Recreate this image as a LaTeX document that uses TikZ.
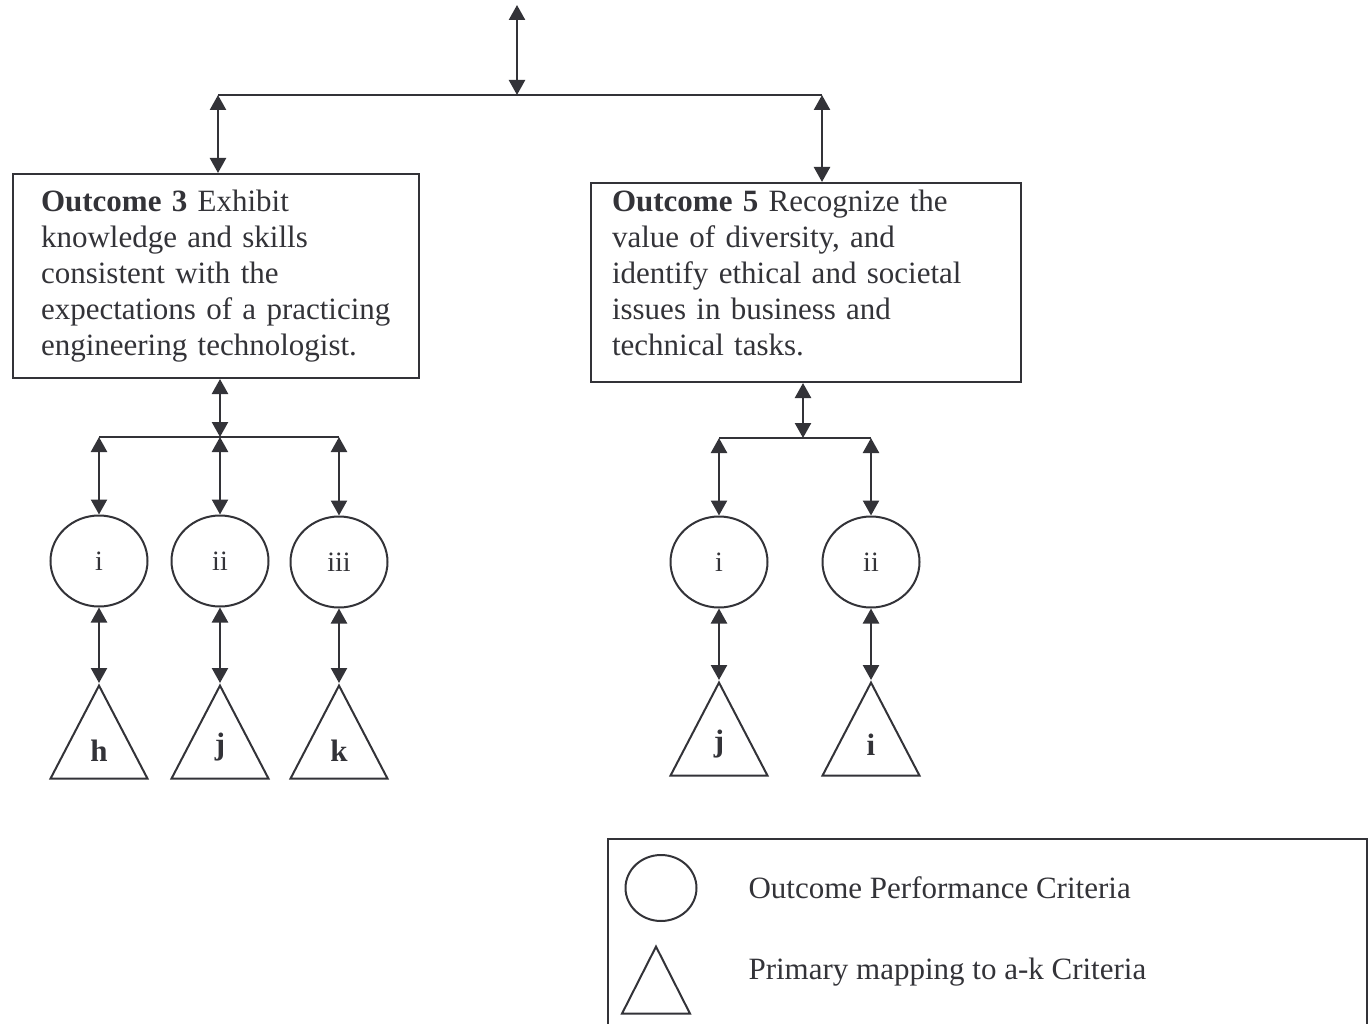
\documentclass[tikz,border=0pt]{standalone}
\usepackage{fontspec}
\setmainfont{Liberation Serif}
\usepackage{tikz}
\usetikzlibrary{arrows.meta,shapes.geometric}
\definecolor{ink}{RGB}{51,51,56}

\begin{document}
\begin{tikzpicture}[<->,>={Triangle[width=16pt,length=15pt]}
  ,x=1pt,y=-1pt
  ,line width=2.4pt
  ,color=ink
  ,font=\fontsize{31}{36}\selectfont]
  \tikzstyle{outbox}=[draw,rectangle,anchor=north west,align=left,
  inner xsep=28pt,line width=2pt]
  \tikzstyle{crit}=[draw,ellipse,minimum width=97pt,minimum height=91pt,
  inner sep=0pt,line width=2pt,font=\fontsize{28}{32}\selectfont]
  \tikzstyle{abet}=[draw,isosceles triangle,shape border rotate=90,
  isosceles triangle stretches,minimum width=97pt,minimum height=93pt,
  inner sep=0pt,anchor=apex,line width=2pt,font=\bfseries\fontsize{31}{36}\selectfont]

  \useasboundingbox (0,0) rectangle (1370,1024);

  % two outcome boxes
  \node[outbox,text width=350pt,minimum height=204pt](oc3) at (12,173)
  {\textbf{Outcome 3} Exhibit\\knowledge and skills\\consistent with the\\
    expectations of a practicing\\engineering technologist.};
  \node[outbox,inner xsep=21pt,text width=388pt,minimum height=199pt,
  text depth=164pt](oc5) at (590,182)
  {\textbf{Outcome 5} Recognize the\\value of diversity, and\\
    identify ethical and societal\\issues in business and\\technical tasks.};

  % performance criteria
  \node[crit](c31) at (99,561) {i};
  \node[crit](c32) at (220,561) {ii};
  \node[crit](c33) at (339,562) {iii};
  \node[crit](c51) at (719,562) {i};
  \node[crit](c52) at (871,562) {ii};

  % a-k criteria
  \node[abet](t31) at (99,683) {h};
  \node[abet](t32) at (220,683) {j};
  \node[abet](t33) at (339,683) {k};
  \node[abet](t51) at (719,680) {j};
  \node[abet](t52) at (871,680) {i};

  % legend
  \node[draw,rectangle,line width=2pt,anchor=north west,
  minimum width=759pt,minimum height=190pt](key) at (607,838) {};
  \node[crit,minimum width=71pt,minimum height=66pt](keyc) at (661,888) {};
  \node[abet,minimum width=68pt,minimum height=67pt](keyt) at (656,944) {};
  \node[anchor=west](keyctxt) at (744,888) {Outcome Performance Criteria};
  \node[anchor=west](keyttxt) at (744,972) {Primary mapping to a-k Criteria};

  % junctions
  \coordinate (top) at (517,5);
  \coordinate (hub) at (517,95);
  \coordinate (hubL) at (218,95);
  \coordinate (hubR) at (822,95);
  \coordinate (bus3) at (220,437);
  \coordinate (bus5) at (803,438);

  \path[-] (hubL) edge (hubR)
  (c31 |- bus3) edge (c33 |- bus3)
  (c51 |- bus5) edge (c52 |- bus5);

  \path
  (top) edge (hub)
  (hubL) edge (hubL |- oc3.north)
  (hubR) edge (hubR |- oc5.north)
  (bus3 |- oc3.south) edge (bus3)
  (bus5 |- oc5.south) edge (bus5)
  (c31 |- bus3) edge (c31.north)
  (bus3) edge (c32.north)
  (c33 |- bus3) edge (c33.north)
  (c51 |- bus5) edge (c51.north)
  (c52 |- bus5) edge (c52.north)
  (c31.south) edge (t31.apex)
  (c32.south) edge (t32.apex)
  (c33.south) edge (t33.apex)
  (c51.south) edge (t51.apex)
  (c52.south) edge (t52.apex);

\end{tikzpicture}
\end{document}
